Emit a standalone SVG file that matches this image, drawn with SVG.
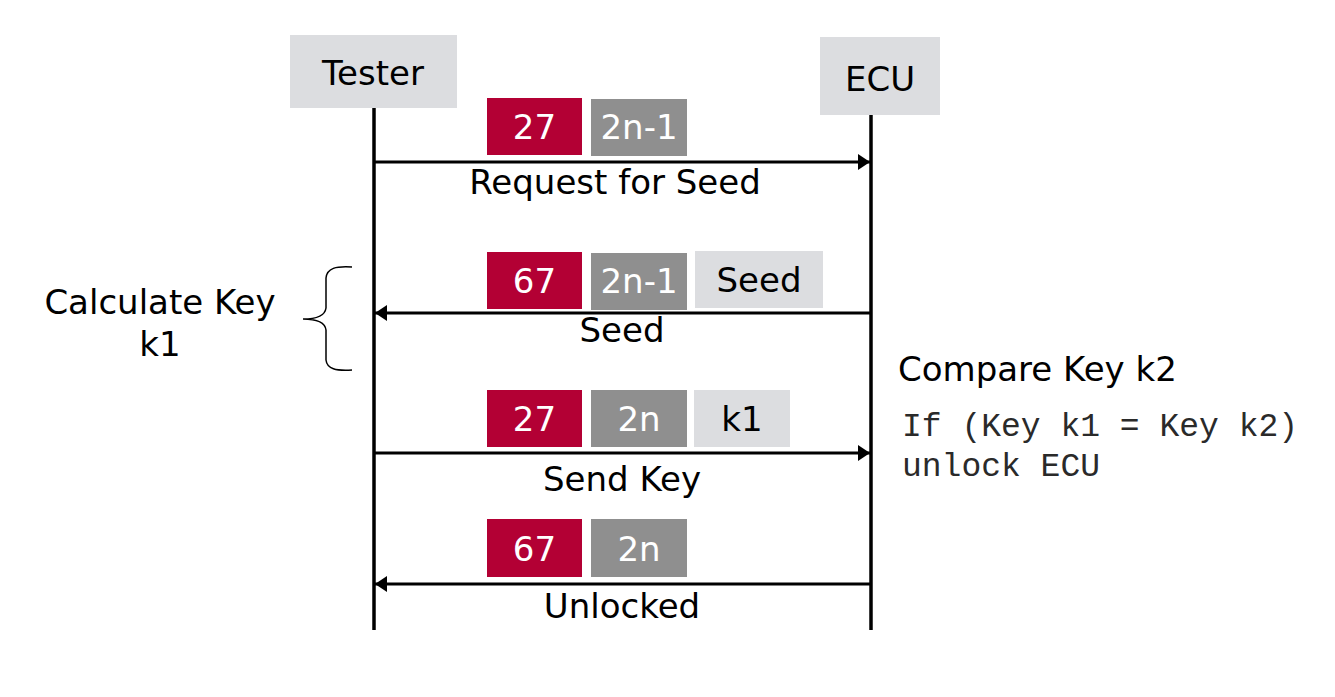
<svg xmlns="http://www.w3.org/2000/svg" width="1335" height="697" viewBox="0 0 1335 697">
<style>
.lbl{font-family:"DejaVu Sans",Verdana,sans-serif;font-size:34px;fill:#000}
.wt{font-family:"DejaVu Sans",Verdana,sans-serif;font-size:34px;fill:#fff}
.mono{font-family:"Liberation Mono","Courier New",monospace;font-size:33px;fill:#2a2a2a}
.red{fill:#b30034}
.gry{fill:#8f8f8f}
.lt{fill:#dcdde0}
.life{stroke:#000;stroke-width:3.5;fill:none}
.msg{stroke:#000;stroke-width:3;fill:none}
</style>
<defs>
<marker id="ah" viewBox="0 0 12 16" refX="12" refY="8" markerWidth="12" markerHeight="16" orient="auto" markerUnits="userSpaceOnUse">
<path d="M0,0 L12,8 L0,16 Z" fill="#000"/>
</marker>
</defs>
<rect width="1335" height="697" fill="#fff"/>
<g id="tester">
<rect x="290" y="35" width="167" height="73" class="lt"/>
<text x="373" y="85" class="lbl" text-anchor="middle">Tester</text>
</g>
<g id="ecu">
<rect x="820" y="37" width="120" height="78" class="lt"/>
<text x="880" y="91" class="lbl" text-anchor="middle">ECU</text>
</g>
<g id="lifelines">
<line x1="374" y1="108" x2="374" y2="630" class="life"/>
<line x1="871" y1="115" x2="871" y2="630" class="life"/>
</g>
<g id="connectors">
<line x1="374" y1="162" x2="870" y2="162" class="msg" marker-end="url(#ah)"/>
<line x1="871" y1="313" x2="375" y2="313" class="msg" marker-end="url(#ah)"/>
<line x1="374" y1="453" x2="870" y2="453" class="msg" marker-end="url(#ah)"/>
<line x1="871" y1="584" x2="375" y2="584" class="msg" marker-end="url(#ah)"/>
</g>
<g id="msg1">
<rect x="487" y="98" width="95" height="57" class="red"/>
<text x="534.5" y="139" class="wt" text-anchor="middle">27</text>
<rect x="591" y="99" width="96" height="57" class="gry"/>
<text x="639" y="139" class="wt" text-anchor="middle">2n-1</text>
<text x="615" y="194" class="lbl" text-anchor="middle">Request for Seed</text>
</g>
<g id="msg2">
<rect x="487" y="252" width="95" height="57" class="red"/>
<text x="534.5" y="293" class="wt" text-anchor="middle">67</text>
<rect x="591" y="253" width="96" height="57" class="gry"/>
<text x="639" y="293" class="wt" text-anchor="middle">2n-1</text>
<rect x="695" y="251" width="128" height="57" class="lt"/>
<text x="759" y="292" class="lbl" text-anchor="middle">Seed</text>
<text x="622" y="342" class="lbl" text-anchor="middle">Seed</text>
</g>
<g id="msg3">
<rect x="487" y="390" width="95" height="57" class="red"/>
<text x="534.5" y="431" class="wt" text-anchor="middle">27</text>
<rect x="591" y="390" width="96" height="57" class="gry"/>
<text x="639" y="431" class="wt" text-anchor="middle">2n</text>
<rect x="694" y="390" width="96" height="57" class="lt"/>
<text x="742" y="431" class="lbl" text-anchor="middle">k1</text>
<text x="622" y="491" class="lbl" text-anchor="middle">Send Key</text>
</g>
<g id="msg4">
<rect x="487" y="519" width="95" height="58" class="red"/>
<text x="534.5" y="561" class="wt" text-anchor="middle">67</text>
<rect x="591" y="519" width="96" height="58" class="gry"/>
<text x="639" y="561" class="wt" text-anchor="middle">2n</text>
<text x="622" y="618" class="lbl" text-anchor="middle">Unlocked</text>
</g>
<g id="calc">
<text x="160" y="314" class="lbl" text-anchor="middle">Calculate Key</text>
<text x="160" y="356" class="lbl" text-anchor="middle">k1</text>
<path d="M352,267 C336,266 327,268 326,278 L326,308 C325,316 316,319 303,319 C316,319 325,322 326,330 L326,360 C327,369 336,371 352,370" fill="none" stroke="#000" stroke-width="1.5"/>
</g>
<g id="compare">
<text x="898" y="381" class="lbl">Compare Key k2</text>
<text x="902" y="436" class="mono">If (Key k1 = Key k2)</text>
<text x="902" y="476" class="mono">unlock ECU</text>
</g>
</svg>
